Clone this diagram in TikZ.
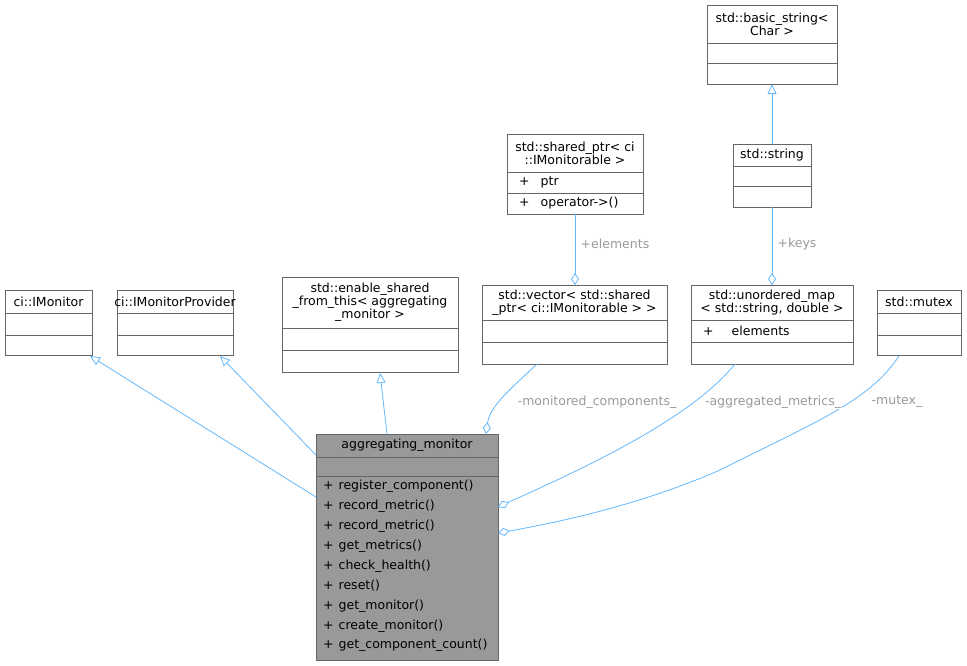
\documentclass[tikz,border=0pt]{standalone}
\usepackage{fontspec}
\setmainfont{DejaVu Sans}
\usetikzlibrary{arrows.meta}
\definecolor{edge}{HTML}{63B8FF}
\definecolor{bord}{HTML}{666666}
\definecolor{lab}{HTML}{9A9A9A}
\begin{document}
\begin{tikzpicture}[x=1pt,y=-1pt,
  font=\fontsize{12.5}{13}\selectfont,
  box/.style={draw=bord,line width=0.8pt},
  t/.style={inner sep=0pt,align=center},
  m/.style={inner sep=0pt,anchor=west},
  inh/.style={draw=edge,line width=0.8pt,-{Triangle[open,length=10pt,width=9pt]}},
  agg/.style={draw=edge,line width=0.8pt,-{Diamond[open,length=12pt,width=8pt]}},
  el/.style={inner sep=1pt,text=lab,fill=white}]
\useasboundingbox (0,0) rectangle (967,665);
\newcommand{\umlbox}[7]{% name, x1,y1,x2,y2, line1,line2
  \draw[box] (#2,#3) rectangle (#4,#5);
  \draw[box] (#2,#6) -- (#4,#6);
  \draw[box] (#2,#7) -- (#4,#7);
  \coordinate (#1-nw) at (#2,#3);
}
% ci::IMonitor
\umlbox{im}{5}{290}{92}{355}{313}{335}
\node[t] (imt) at (48.5,301.5) {ci::IMonitor};
\coordinate (im) at (90,356);
% IMonitorProvider
\umlbox{imp}{117}{290}{233}{355}{313}{335}
\node[t] (impt) at (175,301.5) {ci::IMonitorProvider};
\coordinate (imp) at (220,356);
% enable_shared
\umlbox{es}{282}{277}{458}{372}{328}{350}
\node[t] (est) at (370,302) {std::enable\_shared\\\_from\_this< aggregating\\\_monitor >};
\coordinate (es) at (380,373);
% vector
\umlbox{vec}{482}{285}{667}{364}{320}{342}
\node[t] (vect) at (574.5,302.5) {std::vector< std::shared\\\_ptr< ci::IMonitorable > >};
\coordinate (vecb) at (537,364);
\coordinate (vect2) at (575,285);
% unordered_map
\umlbox{um}{691}{285}{853}{364}{320}{342}
\node[t] (umt) at (772,302.5) {std::unordered\_map\\< std::string, double >};
\node[m] (ume) at (703,331) {+\hspace{18pt}elements};
\coordinate (umb) at (735,364);
\coordinate (umt2) at (772,285);
% mutex
\umlbox{mu}{877}{290}{961}{355}{313}{335}
\node[t] (mut) at (919,301.5) {std::mutex};
\coordinate (mub) at (899,356);
% shared_ptr
\umlbox{sp}{507}{134}{643}{214}{172}{193}
\node[t] (spt) at (575,153) {std::shared\_ptr< ci\\::IMonitorable >};
\node[m] (sp1) at (519,182.5) {+\hspace{11pt}ptr};
\node[m] (sp2) at (519,203.5) {+\hspace{11pt}operator->()};
\coordinate (spb) at (575,214);
% string
\umlbox{st}{733}{144}{811}{207}{166}{186}
\node[t] (stt) at (772,155) {std::string};
\coordinate (stb) at (772,207);
\coordinate (stt2) at (772,144);
% basic_string
\umlbox{bs}{707}{5}{837}{84}{43}{63}
\node[t] (bst) at (772,24) {std::basic\_string<\\Char >};
\coordinate (bsb) at (772,84);
% aggregating_monitor
\fill[fill={rgb,255:red,153;green,153;blue,153}] (316,434) rectangle (498,660);
\draw[box] (316,434) rectangle (498,660);
\draw[box] (316,457) -- (498,457);
\draw[box] (316,476) -- (498,476);
\node[t] (amt) at (407,445.5) {aggregating\_monitor};
\foreach \s [count=\i from 0] in {register\_component(),record\_metric(),record\_metric(),get\_metrics(),check\_health(),reset(),get\_monitor(),create\_monitor(),get\_component\_count()}
  \node[m] at (323,486.5+19.9*\i) {+\hspace{5pt}\s};
\coordinate (am1) at (316,497);
\coordinate (am2) at (316,455);
\coordinate (am3) at (387,434);
\coordinate (am4) at (486,434);
\coordinate (am5) at (498,507);
\coordinate (am6) at (498,533);
% edges
\draw[inh] (am1) -- (im);
\draw[inh] (am2) -- (imp);
\draw[inh] (am3) -- (es);
\draw[inh] (stt2) -- (bsb);
\draw[agg] (vecb) .. controls (515,385) and (490,405) .. (am4);
\draw[agg] (umb) .. controls (690,420) and (580,470) .. (am5);
\draw[agg] (mub) .. controls (870,400) and (820,420) .. (720,470) .. controls (640,505) and (560,522) .. (am6);
\draw[agg] (spb) -- (vect2);
\draw[agg] (stb) -- (umt2);
\node[el] (l1) at (597,402) {-monitored\_components\_};
\node[el] (l2) at (773,402) {-aggregated\_metrics\_};
\node[el] (l3) at (897,402) {-mutex\_};
\node[el,fill=none] (l4) at (615,244) {+elements};
\node[el,fill=none] (l5) at (797,244) {+keys};
\end{tikzpicture}
\end{document}
